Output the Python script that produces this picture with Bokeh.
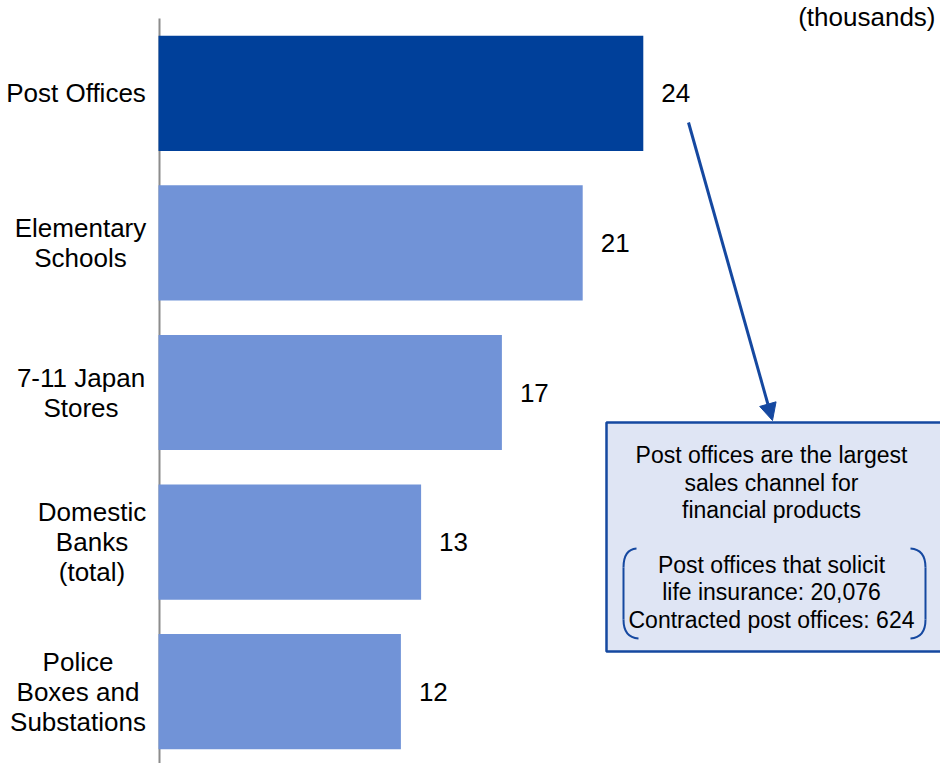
from bokeh.plotting import figure
from bokeh.models import Range1d, Arrow, NormalHead, ColumnDataSource
from bokeh.embed import file_html
from bokeh.resources import INLINE
from bokeh.core.properties import value

# ---- data ----
categories = ["Post Offices", "Elementary\nSchools", "7-11 Japan\nStores",
              "Domestic\nBanks\n(total)", "Police\nBoxes and\nSubstations"]
values = [24, 21, 17, 13, 12]
value_labels = ["24", "21", "17", "13", "12"]
unit_label = "(thousands)"
callout_title = ["Post offices are the largest", "sales channel for", "financial products"]
callout_detail = ["Post offices that solicit", "life insurance: 20,076", "Contracted post offices: 624"]

# ---- style / layout ----
DARK = "#00409A"
LIGHT = "#7193D7"
BOX_FILL = "#DFE5F4"
BLUE_LINE = "#1548A0"
AXIS_GRAY = "#8C8C8C"
FONT = value("Liberation Sans")
bar_colors = [DARK] + [LIGHT] * (len(values) - 1)
LABEL_CENTERS_PX = [75.5, 80, 80.5, 91.5, 77.5]   # horizontal centre of each label block
LINE_PX = 30

W, H = 940, 763
AXIS_PX = 158          # pixel column of the value axis (x = 0)
TOP_PX = 18            # pixel row of the top of the category band
PX_PER_X = 20.2
PX_PER_Y = 149.6
positions = list(range(len(categories)))

X_START = -AXIS_PX / PX_PER_X
X_END = (W - AXIS_PX) / PX_PER_X
Y_TOP = -0.5 - TOP_PX / PX_PER_Y
Y_BOTTOM = Y_TOP + H / PX_PER_Y


def dx(px):
    return X_START + px / PX_PER_X


def dy(py):
    return Y_TOP + py / PX_PER_Y


p = figure(width=W, height=H, output_backend="svg", toolbar_location=None,
           x_range=Range1d(X_START, X_END), y_range=Range1d(Y_BOTTOM, Y_TOP),
           min_border=0)
p.axis.visible = False
p.grid.visible = False
p.outline_line_color = None

# value axis line
p.segment(x0=[dx(159)], y0=[dy(TOP_PX)], x1=[dx(159)], y1=[dy(H)],
          line_color=AXIS_GRAY, line_width=2)

# bars and value labels
src = ColumnDataSource(dict(pos=positions, val=values, lab=value_labels, color=bar_colors))
p.hbar(y="pos", left=0, right="val", height=0.77, fill_color="color", line_color=None, source=src)
p.text(x="val", y="pos", text="lab", x_offset=18, text_baseline="middle", text_align="left",
       text_font_size="26px", text_font=FONT, text_color="#000000", source=src)

# category labels: block beside the axis, lines centred inside the block
lab_x, lab_y, lab_t = [], [], []
for pos, cat, cpx in zip(positions, categories, LABEL_CENTERS_PX):
    lines = cat.split("\n")
    n = len(lines)
    for k, line in enumerate(lines):
        lab_x.append(dx(cpx))
        lab_y.append(pos + (k - (n - 1) / 2) * LINE_PX / PX_PER_Y)
        lab_t.append(line)
p.text(x=lab_x, y=lab_y, text=lab_t, text_align="center", text_baseline="middle",
       text_font_size="26px", text_font=FONT, text_color="#000000")

# unit label
p.text(x=[dx(935)], y=[dy(16)], text=[unit_label], text_align="right", text_baseline="middle",
       text_font_size="26px", text_font=FONT, text_color="#000000")

# callout box
p.quad(left=[dx(606)], right=[X_END + 2], top=[dy(422)], bottom=[dy(651)],
       fill_color=BOX_FILL, line_color=BLUE_LINE, line_width=2.5)

cx = dx(771)
box_lines = callout_title + callout_detail
box_rows = [454, 482, 509, 564, 591, 619]
p.text(x=[cx] * len(box_lines), y=[dy(r) for r in box_rows], text=box_lines,
       text_align="center", text_baseline="middle", text_font_size="23px", text_font=FONT,
       text_color="#000000")

# brackets
p.quadratic(x0=[dx(636), dx(623), dx(910), dx(925)],
            y0=[dy(548), dy(619), dy(548), dy(619)],
            x1=[dx(623), dx(638), dx(925), dx(910)],
            y1=[dy(567), dy(638), dy(567), dy(638)],
            cx=[dx(623), dx(623), dx(925), dx(925)],
            cy=[dy(549), dy(637), dy(549), dy(637)],
            line_color=BLUE_LINE, line_width=2)
p.segment(x0=[dx(623), dx(925)], y0=[dy(567), dy(567)], x1=[dx(623), dx(925)], y1=[dy(619), dy(619)],
          line_color=BLUE_LINE, line_width=2)

# arrow
p.add_layout(Arrow(end=NormalHead(size=17, fill_color=BLUE_LINE, line_color=BLUE_LINE),
                   x_start=dx(688), y_start=dy(122), x_end=dx(772), y_end=dy(420),
                   line_color=BLUE_LINE, line_width=3))

open("out.html", "w").write(file_html(p, INLINE))
